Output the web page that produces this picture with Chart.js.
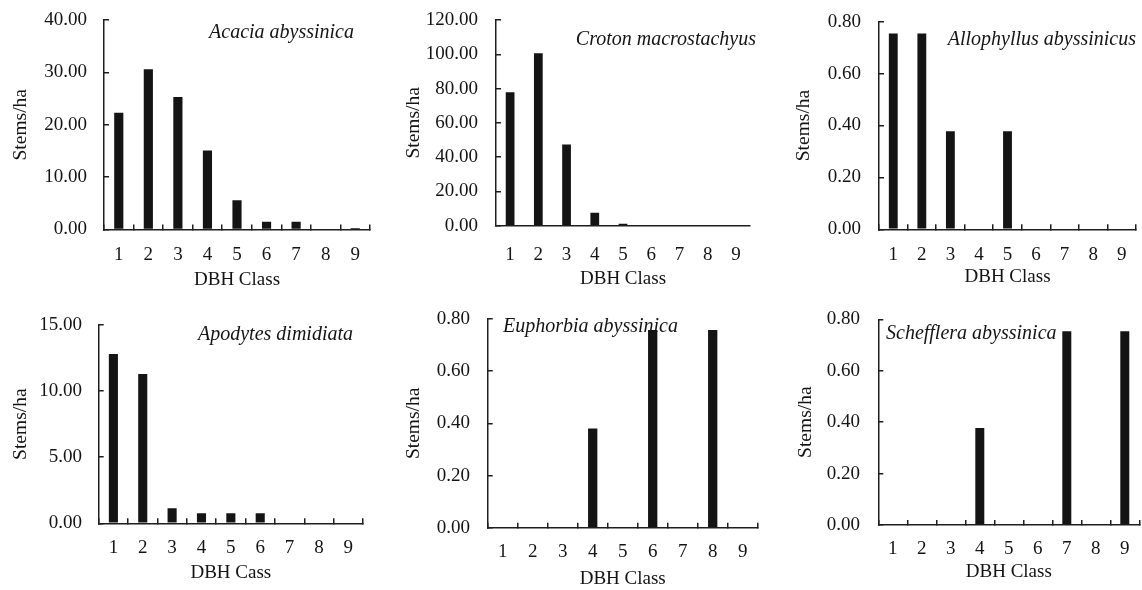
<!DOCTYPE html>
<html>
<head>
<meta charset="utf-8">
<script src="https://cdn.jsdelivr.net/npm/chart.js@4.4.1/dist/chart.umd.min.js"></script>
<style>
html, body { margin: 0; padding: 0; background: #fff; width: 1142px; height: 590px; overflow: hidden; }
.panel { position: absolute; }
.panel canvas { display: block; }
</style>
</head>
<body>
<script>
// ---- data ----
const categories = ['1', '2', '3', '4', '5', '6', '7', '8', '9'];
const acaciaValues = [22.3, 30.6, 25.3, 15.1, 5.6, 1.5, 1.5, 0, 0.3];
const crotonValues = [77.8, 100.6, 47.3, 7.6, 1.1, 0, 0, 0, 0];
const allophyllusValues = [0.755, 0.755, 0.378, 0, 0.378, 0, 0, 0, 0];
const apodytesValues = [12.8, 11.3, 1.13, 0.76, 0.76, 0.76, 0, 0, 0];
const euphorbiaValues = [0, 0, 0, 0.38, 0, 0.758, 0, 0.758, 0];
const scheffleraValues = [0, 0, 0, 0.377, 0, 0, 0.754, 0, 0.754];
const speciesNames = ['Acacia abyssinica', 'Croton macrostachyus', 'Allophyllus abyssinicus',
                      'Apodytes dimidiata', 'Euphorbia abyssinica', 'Schefflera abyssinica'];
const xAxisTitles = ['DBH Class', 'DBH Class', 'DBH Class', 'DBH Cass', 'DBH Class', 'DBH Class'];
const yAxisTitle = 'Stems/ha';
const yMaxima = [40, 120, 0.8, 15, 0.8, 0.8];
const ySteps = [10, 20, 0.2, 5, 0.2, 0.2];

// ---- style / layout ----
const FONT = 'Liberation Serif';
const FS = 19;
const TFS = 20;
const LH = FS * 1.2;
const INK = '#141414';
const AXIS = '#1e1e1e';

const layouts = [
  { area: { l: 104, t: 20, r: 370, b: 229.5 }, yTitleX: 20, yTickRight: 87, xTickY: 255, xTitleY: 280, xMarks: true, sp: { x: 354, y: 33, align: 'right' } },
  { area: { l: 496, t: 20, r: 750, b: 225.7 }, yTitleX: 413, yTickRight: 478, xTickY: 255, xTitleY: 279, xMarks: false, sp: { x: 756, y: 40, align: 'right' } },
  { area: { l: 879, t: 21.7, r: 1136, b: 229.3 }, yTitleX: 803, yTickRight: 861, xTickY: 255, xTitleY: 277, xMarks: true, sp: { x: 1136, y: 40, align: 'right' } },
  { area: { l: 98.7, t: 325, r: 363, b: 523.3 }, yTitleX: 20, yTickRight: 82, xTickY: 548, xTitleY: 573, xMarks: true, sp: { x: 353, y: 335, align: 'right' } },
  { area: { l: 487.7, t: 319, r: 757.7, b: 527.7 }, yTitleX: 413, yTickRight: 470, xTickY: 551.7, xTitleY: 579, xMarks: true, sp: { x: 503, y: 327, align: 'left' } },
  { area: { l: 878.3, t: 319.3, r: 1139.3, b: 525 }, yTitleX: 805, yTickRight: 860, xTickY: 549, xTitleY: 572, xMarks: true, sp: { x: 886, y: 334, align: 'left' } }
];
const seriesList = [acaciaValues, crotonValues, allophyllusValues, apodytesValues, euphorbiaValues, scheffleraValues];

const speciesLabel = {
  id: 'speciesLabel',
  afterDatasetsDraw(chart, args, opts) {
    const ctx = chart.ctx;
    ctx.save();
    ctx.font = 'italic ' + TFS + 'px "' + FONT + '"';
    ctx.fillStyle = INK;
    ctx.textAlign = opts.align;
    ctx.textBaseline = 'middle';
    ctx.fillText(opts.text, opts.x, opts.y);
    ctx.restore();
  }
};

const TL = -5; // inward tick marks

layouts.forEach((L, i) => {
  const a = L.area;
  const left = Math.round(L.yTitleX - LH / 2);
  const top = Math.round(a.t - 14);
  const right = Math.min(1142, Math.round(a.r + 6));
  const bottom = Math.round(L.xTitleY + LH / 2);
  const W = right - left, H = bottom - top;
  const YW = a.l - left;
  const PT = a.t - top;
  const PR = W - (a.r - left);
  const XH = bottom - a.b;
  const xTL = L.xMarks ? TL : 0;
  const xPad = L.xTickY - a.b - xTL - LH / 2;
  const yPad = a.l - TL - L.yTickRight;

  const div = document.createElement('div');
  div.className = 'panel';
  div.style.left = left + 'px';
  div.style.top = top + 'px';
  div.style.width = W + 'px';
  div.style.height = H + 'px';
  const c = document.createElement('canvas');
  c.width = W; c.height = H;
  c.style.width = W + 'px'; c.style.height = H + 'px';
  div.appendChild(c);
  document.body.appendChild(div);

  new Chart(c, {
    type: 'bar',
    data: {
      labels: categories,
      datasets: [{
        data: seriesList[i],
        backgroundColor: INK,
        borderWidth: 0,
        barPercentage: 0.31,
        categoryPercentage: 1
      }]
    },
    plugins: [speciesLabel],
    options: {
      responsive: false,
      animation: false,
      devicePixelRatio: 1,
      layout: { padding: { top: PT, right: PR, left: 0, bottom: 0 } },
      plugins: {
        legend: { display: false },
        tooltip: { enabled: false },
        speciesLabel: { text: speciesNames[i], x: L.sp.x - left, y: L.sp.y - top, align: L.sp.align }
      },
      scales: {
        x: {
          type: 'category',
          offset: true,
          grid: { offset: true, drawOnChartArea: false, drawTicks: L.xMarks, tickLength: TL, lineWidth: 1.5, color: AXIS },
          border: { display: true, color: AXIS, width: 1.5 },
          ticks: { color: INK, font: { family: FONT, size: FS }, padding: xPad, maxRotation: 0, minRotation: 0, autoSkip: false },
          title: { display: true, text: xAxisTitles[i], color: INK, font: { family: FONT, size: FS }, padding: 0 },
          afterFit(s) { s.height = XH; s.paddingLeft = 0; s.paddingRight = 0; }
        },
        y: {
          min: 0,
          max: yMaxima[i],
          grid: { drawOnChartArea: false, drawTicks: true, tickLength: TL, lineWidth: 1.5, color: AXIS },
          border: { display: true, color: AXIS, width: 1.5 },
          ticks: { stepSize: ySteps[i], color: INK, font: { family: FONT, size: FS }, padding: yPad,
                   callback: v => Number(v).toFixed(2) },
          title: { display: true, text: yAxisTitle, color: INK, font: { family: FONT, size: 19.5 }, padding: 0 },
          afterFit(s) { s.width = YW; s.paddingTop = 0; s.paddingBottom = 0; }
        }
      }
    }
  });
});
</script>
</body>
</html>
